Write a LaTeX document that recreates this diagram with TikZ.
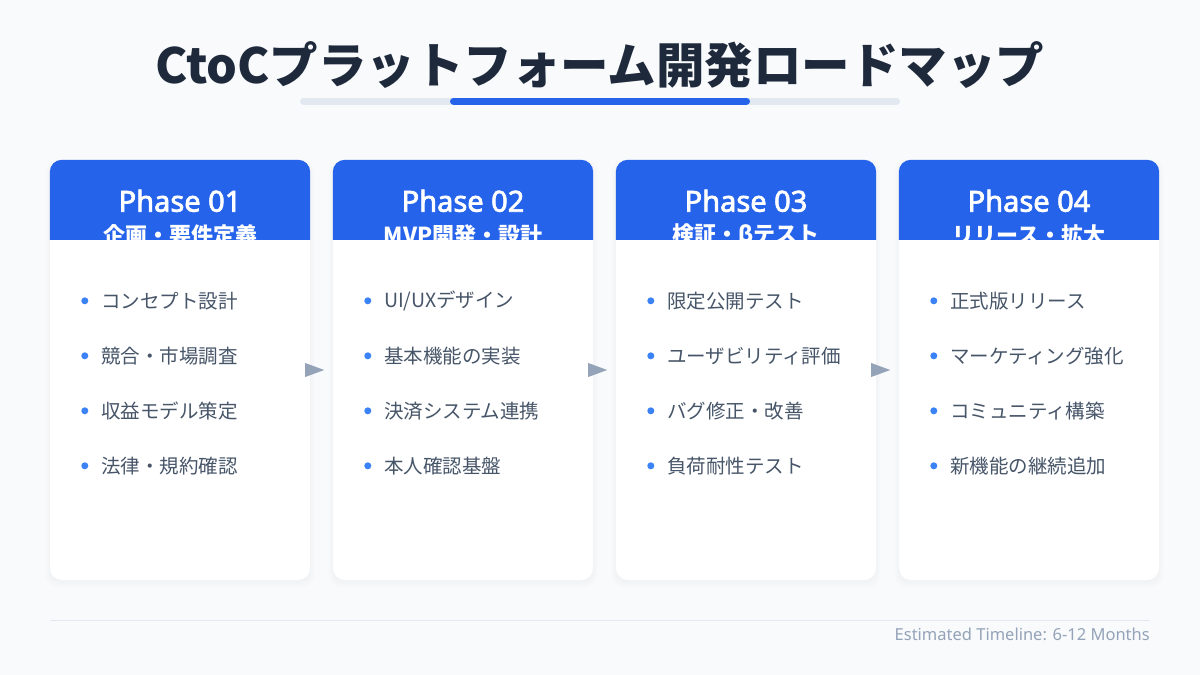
\documentclass[tikz,border=0pt]{standalone}
\usepackage{fontspec}
\setmainfont{Noto Sans}
\newfontfamily\jp{Noto Sans CJK JP}
\newfontfamily\phf{Noto Sans}[FakeBold=2.5]
\usetikzlibrary{calc}
\definecolor{bgc}{HTML}{F8FAFC}
\definecolor{titlec}{HTML}{1E293B}
\definecolor{blueA}{HTML}{2563EB}
\definecolor{trackc}{HTML}{E2E8F0}
\definecolor{itemc}{HTML}{475569}
\definecolor{dotc}{HTML}{3B82F6}
\definecolor{arrowc}{HTML}{94A3B8}
\definecolor{footc}{HTML}{94A3B8}
\tikzset{
  cardbox/.style={rectangle, rounded corners=12pt, fill=white, minimum width=260pt, minimum height=420pt, inner sep=0pt},
  phasetxt/.style={font=\phf\fontsize{29}{32}\selectfont, text=white, inner sep=0pt},
  subtxt/.style={font=\jp\bfseries\fontsize{22}{24}\selectfont, text=white, inner sep=0pt},
  itemtxt/.style={font=\jp\fontsize{19.5}{22}\selectfont, text=itemc, anchor=west, inner sep=0pt},
  tri/.style={fill=arrowc},
}
\newcommand\phasecard[7]{%
  \foreach \k in {1,...,7} {
    \fill[black, opacity=0.005] (#2-\k*0.7, 160-\k*0.4+2) [rounded corners=12pt] rectangle (#2+260+\k*0.7, 580+\k*0.8+2);
  }
  \node[cardbox] (card#1) at (#2+130,370) {};
  \fill[blueA] ($(card#1.north west)+(0,80)$) [rounded corners=12pt] -- (card#1.north west) -- (card#1.north east) [sharp corners] -- ($(card#1.north east)+(0,80)$) -- cycle;
  \node[phasetxt] (ph#1) at ($(card#1.north)+(0,41)$) {Phase 0#1};
  \node[subtxt] (sub#1) at ($(card#1.north)+(0,75.5)$) {#3};
  \fill[white] ($(card#1.north west)+(0,80)$) rectangle ($(card#1.north east)+(0,100)$);
  \fill[dotc] ($(card#1.north west)+(35,141)$) circle (3.5);
  \node[itemtxt] (it#1a) at ($(card#1.north west)+(51,141)$) {#4};
  \fill[dotc] ($(card#1.north west)+(35,196)$) circle (3.5);
  \node[itemtxt] (it#1b) at ($(card#1.north west)+(51,196)$) {#5};
  \fill[dotc] ($(card#1.north west)+(35,251)$) circle (3.5);
  \node[itemtxt] (it#1c) at ($(card#1.north west)+(51,251)$) {#6};
  \fill[dotc] ($(card#1.north west)+(35,306)$) circle (3.5);
  \node[itemtxt] (it#1d) at ($(card#1.north west)+(51,306)$) {#7};
}
\begin{document}
\begin{tikzpicture}[x=1pt,y=-1pt]
\fill[bgc] (0,0) rectangle (1200,675);
\useasboundingbox (0,0) rectangle (1200,675);
\node[font=\jp\bfseries\fontsize{48.5}{56}\selectfont, text=titlec, inner sep=0pt] (title) at (600,65) {CtoCプラットフォーム開発ロードマップ};
\draw[trackc, line width=7pt, line cap=round] (303.5,101) -- (896.5,101);
\draw[blueA, line width=7pt, line cap=round] (453.5,101) -- (746.5,101);
\phasecard{1}{50}{企画・要件定義}{コンセプト設計}{競合・市場調査}{収益モデル策定}{法律・規約確認}
\phasecard{2}{333}{MVP開発・設計}{UI/UXデザイン}{基本機能の実装}{決済システム連携}{本人確認基盤}
\phasecard{3}{616}{検証・βテスト}{限定公開テスト}{ユーザビリティ評価}{バグ修正・改善}{負荷耐性テスト}
\phasecard{4}{899}{リリース・拡大}{正式版リリース}{マーケティング強化}{コミュニティ構築}{新機能の継続追加}
\foreach \a in {1,2,3} {
  \fill[tri] ($(card\a.east)+(-5,-7)$) -- ($(card\a.east)+(14,0)$) -- ($(card\a.east)+(-5,7)$) -- cycle;
}
\draw[trackc, line width=1pt] (50,620) -- (1150,620);
\node[anchor=east, font=\fontsize{16.5}{18}\selectfont, text=footc, inner sep=0pt] (foot) at (1150,634) {Estimated Timeline: 6-12 Months};
\end{tikzpicture}
\end{document}
